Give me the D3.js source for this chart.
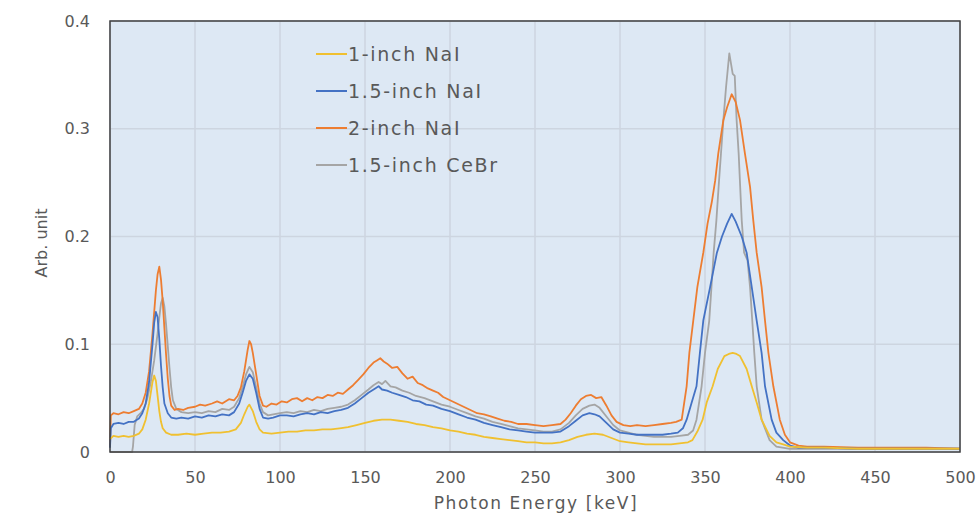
<!DOCTYPE html>
<html>
<head>
<meta charset="utf-8">
<script src="https://cdn.jsdelivr.net/npm/d3@7"></script>
<style>
  body { margin: 0; background: #fff; }
  text { font-family: "DejaVu Sans", sans-serif; fill: #595959; }
</style>
</head>
<body>
<div id="chart"></div>
<script>
// spectra, [energy keV, arb. unit]
const nai1 = [[0,0.012],[2,0.015],[5,0.014],[8,0.015],[11,0.014],[14,0.015],[17,0.017],[19,0.021],[21,0.03],[23,0.045],[25,0.065],[26,0.071],[27,0.066],[28,0.052],[29,0.038],[30,0.028],[31,0.022],[33,0.018],[36,0.016],[40,0.016],[45,0.017],[50,0.016],[55,0.017],[60,0.018],[65,0.018],[70,0.019],[74,0.021],[77,0.027],[79,0.035],[81,0.042],[82,0.044],[84,0.038],[86,0.028],[88,0.021],[90,0.018],[95,0.017],[100,0.018],[105,0.019],[110,0.019],[115,0.02],[120,0.02],[125,0.021],[130,0.021],[135,0.022],[140,0.023],[145,0.025],[150,0.027],[155,0.029],[160,0.03],[165,0.03],[170,0.029],[175,0.028],[180,0.026],[185,0.025],[190,0.023],[195,0.022],[200,0.02],[205,0.019],[210,0.017],[215,0.016],[220,0.014],[225,0.013],[230,0.012],[235,0.011],[240,0.01],[245,0.009],[250,0.009],[255,0.008],[260,0.008],[265,0.009],[270,0.011],[275,0.014],[280,0.016],[285,0.017],[290,0.016],[295,0.013],[300,0.01],[305,0.009],[310,0.008],[315,0.007],[320,0.007],[325,0.007],[330,0.007],[335,0.008],[340,0.009],[342.6,0.011],[345.5,0.019],[348.6,0.03],[351,0.046],[354.5,0.061],[357.5,0.077],[361.4,0.089],[364,0.091],[366.3,0.092],[368.5,0.091],[370.6,0.089],[374.5,0.077],[377.5,0.061],[380.4,0.046],[383.3,0.03],[388,0.015],[392,0.009],[396,0.007],[400,0.005],[410,0.004],[420,0.004],[440,0.003],[460,0.003],[480,0.003],[500,0.003]];

const nai15 = [[0,0.004],[0.5,0.022],[2,0.026],[5,0.027],[8,0.026],[11,0.028],[14,0.028],[17,0.031],[19,0.036],[21,0.045],[23,0.065],[25,0.1],[26,0.12],[27,0.13],[28,0.125],[29,0.105],[30,0.08],[31,0.06],[32,0.045],[34,0.036],[36,0.032],[39,0.031],[42,0.032],[46,0.031],[50,0.033],[54,0.032],[58,0.034],[62,0.033],[66,0.035],[70,0.034],[73,0.037],[76,0.045],[78,0.055],[80,0.066],[82,0.072],[84,0.068],[86,0.055],[88,0.04],[90,0.032],[93,0.031],[96,0.032],[100,0.034],[104,0.034],[108,0.033],[112,0.035],[116,0.036],[120,0.035],[124,0.037],[128,0.036],[132,0.038],[136,0.039],[140,0.041],[144,0.045],[148,0.05],[152,0.055],[156,0.059],[158,0.061],[160,0.058],[163,0.057],[166,0.055],[170,0.053],[174,0.051],[178,0.048],[182,0.047],[186,0.044],[190,0.043],[195,0.04],[200,0.038],[205,0.035],[210,0.032],[215,0.03],[220,0.027],[225,0.025],[230,0.023],[235,0.021],[240,0.02],[245,0.019],[250,0.018],[255,0.018],[260,0.018],[265,0.019],[270,0.024],[274,0.029],[278,0.034],[282,0.036],[285,0.035],[288,0.033],[292,0.027],[296,0.021],[300,0.018],[305,0.017],[310,0.016],[315,0.016],[320,0.016],[325,0.016],[330,0.017],[334,0.018],[337,0.022],[339.2,0.03],[342,0.045],[345,0.061],[347,0.092],[349,0.122],[353,0.153],[357,0.185],[360,0.2],[363,0.212],[365.7,0.221],[368,0.214],[371.6,0.2],[374.5,0.185],[377.5,0.153],[380.4,0.122],[383.3,0.092],[385.3,0.061],[389.2,0.03],[392,0.018],[396,0.011],[400,0.006],[405,0.004],[420,0.004],[440,0.003],[460,0.003],[480,0.003],[500,0.003]];

const nai2 = [[0,0.005],[0.5,0.034],[2,0.036],[5,0.035],[8,0.037],[11,0.036],[14,0.038],[17,0.04],[19,0.045],[21,0.055],[23,0.075],[25,0.11],[27,0.15],[28,0.165],[29,0.172],[30,0.16],[31,0.14],[32,0.115],[33,0.09],[34,0.068],[35,0.052],[36,0.043],[38,0.039],[40,0.04],[43,0.039],[46,0.041],[50,0.042],[53,0.044],[56,0.043],[60,0.045],[63,0.047],[66,0.045],[70,0.049],[73,0.048],[75,0.052],[77,0.06],[79,0.075],[81,0.095],[82,0.103],[83,0.1],[84,0.092],[86,0.072],[88,0.052],[90,0.043],[92,0.042],[95,0.045],[98,0.044],[101,0.047],[104,0.046],[107,0.049],[110,0.05],[113,0.047],[116,0.05],[119,0.048],[122,0.051],[125,0.05],[128,0.053],[131,0.052],[134,0.055],[137,0.054],[140,0.058],[143,0.062],[146,0.067],[149,0.072],[152,0.078],[155,0.083],[157,0.085],[159,0.087],[161,0.084],[163,0.082],[166,0.078],[169,0.079],[172,0.073],[175,0.068],[178,0.07],[181,0.064],[184,0.062],[187,0.059],[190,0.057],[193,0.055],[196,0.051],[200,0.048],[204,0.045],[208,0.042],[212,0.039],[216,0.036],[220,0.035],[224,0.033],[228,0.031],[232,0.029],[236,0.028],[240,0.026],[245,0.026],[250,0.025],[255,0.024],[260,0.025],[265,0.026],[268,0.03],[271,0.036],[274,0.043],[277,0.049],[280,0.052],[283,0.053],[286,0.05],[289,0.051],[292,0.043],[295,0.034],[298,0.028],[302,0.025],[306,0.024],[310,0.025],[315,0.024],[320,0.025],[325,0.026],[330,0.027],[333,0.028],[336.3,0.03],[339.2,0.061],[340.8,0.092],[343.1,0.122],[345.5,0.153],[349,0.185],[351.5,0.212],[354,0.232],[356,0.252],[357.8,0.277],[360.8,0.308],[363,0.32],[365.7,0.332],[368,0.325],[370.6,0.308],[373.5,0.277],[376.5,0.246],[378.4,0.215],[380.4,0.185],[383.3,0.153],[385.3,0.122],[387.3,0.092],[390.2,0.061],[394,0.03],[397,0.016],[400,0.009],[405,0.006],[410,0.005],[420,0.005],[440,0.004],[460,0.004],[480,0.004],[500,0.003]];

const cebr15 = [[0,0],[13,0],[13.5,0.005],[14.5,0.025],[16,0.033],[18,0.036],[20,0.04],[22,0.05],[24,0.065],[26,0.085],[28,0.11],[29,0.125],[30,0.138],[31,0.143],[32,0.135],[33,0.118],[34,0.098],[35,0.078],[36,0.06],[37,0.048],[39,0.04],[42,0.037],[46,0.036],[50,0.037],[54,0.036],[58,0.038],[62,0.037],[66,0.04],[70,0.039],[73,0.042],[76,0.05],[78,0.06],[80,0.072],[82,0.079],[84,0.074],[86,0.06],[88,0.045],[90,0.037],[93,0.034],[96,0.035],[100,0.036],[104,0.037],[108,0.036],[112,0.038],[116,0.037],[120,0.039],[124,0.038],[128,0.04],[132,0.041],[136,0.042],[140,0.044],[144,0.048],[148,0.053],[152,0.058],[155,0.062],[158,0.065],[160,0.063],[162,0.066],[165,0.061],[168,0.06],[172,0.057],[176,0.055],[180,0.052],[185,0.05],[190,0.047],[195,0.044],[200,0.042],[205,0.039],[210,0.036],[215,0.033],[220,0.031],[225,0.028],[230,0.026],[235,0.024],[240,0.022],[245,0.021],[250,0.02],[255,0.019],[260,0.019],[265,0.021],[270,0.027],[274,0.034],[278,0.04],[282,0.043],[285,0.044],[288,0.041],[292,0.033],[296,0.025],[300,0.02],[305,0.018],[310,0.016],[315,0.015],[320,0.014],[325,0.014],[330,0.014],[335,0.015],[340,0.016],[343,0.02],[345,0.03],[348,0.061],[350,0.092],[352.5,0.122],[353.8,0.153],[355.1,0.185],[356.7,0.215],[358,0.246],[359.4,0.277],[360.8,0.308],[362.4,0.339],[364.3,0.370],[366.3,0.351],[367.5,0.349],[368.6,0.308],[369.8,0.277],[370.7,0.246],[371.6,0.215],[373,0.185],[375,0.178],[376.5,0.153],[377.8,0.122],[379,0.092],[380.4,0.061],[383.3,0.03],[388,0.011],[392,0.005],[400,0.003],[420,0.003],[450,0.003],[480,0.003],[500,0.003]];

const seriesNames = ["1-inch NaI", "1.5-inch NaI", "2-inch NaI", "1.5-inch CeBr"];
const seriesData = [nai1, nai15, nai2, cebr15];
const seriesColors = ["#f0c030", "#4472c4", "#ed7d31", "#a5a5a5"];
// drawing order: CeBr under the NaI curves
const drawOrder = [3, 2, 1, 0];

const xTicks = [0, 50, 100, 150, 200, 250, 300, 350, 400, 450, 500];
const yTicks = [0, 0.1, 0.2, 0.3, 0.4];
const yTickLabels = ["0", "0.1", "0.2", "0.3", "0.4"];

let margin = {top: 21, right: 20, bottom: 69, left: 110},
    width = 980 - margin.left - margin.right,
    height = 521 - margin.top - margin.bottom;

const svg = d3.select("#chart")
  .append("svg")
    .attr("width", 980)
    .attr("height", 521);

const g = svg.append("g")
    .attr("transform", "translate(" + margin.left + "," + margin.top + ")");

let x = d3.scaleLinear()
    .domain([0, 500])
    .range([0, width]);

let y = d3.scaleLinear()
    .domain([0, 0.4])
    .range([height, 0]);

// plot area background
g.append("rect")
    .attr("width", width)
    .attr("height", height)
    .attr("fill", "#dde8f4");

// gridlines
g.append("g")
    .selectAll("line.vg")
    .data(xTicks)
    .join("line")
      .attr("x1", d => x(d)).attr("x2", d => x(d))
      .attr("y1", 0).attr("y2", height)
      .attr("stroke", "#cdd5e0")
      .attr("stroke-width", 1.5);

g.append("g")
    .selectAll("line.hg")
    .data(yTicks)
    .join("line")
      .attr("x1", 0).attr("x2", width)
      .attr("y1", d => y(d)).attr("y2", d => y(d))
      .attr("stroke", "#cdd5e0")
      .attr("stroke-width", 1.5);

let line = d3.line()
    .x(d => x(d[0]))
    .y(d => y(d[1]));

g.append("g")
    .selectAll("path")
    .data(drawOrder)
    .join("path")
      .attr("d", i => line(seriesData[i]))
      .attr("fill", "none")
      .attr("stroke", i => seriesColors[i])
      .attr("stroke-width", 1.8)
      .attr("stroke-linejoin", "round");

// frame
g.append("rect")
    .attr("width", width)
    .attr("height", height)
    .attr("fill", "none")
    .attr("stroke", "#404040")
    .attr("stroke-width", 1.5);

// axes
let xAxis = g.append("g")
    .attr("transform", `translate(0,${height})`)
    .call(d3.axisBottom(x).tickValues(xTicks).tickSize(0).tickPadding(20))
    .call(g => g.select(".domain").remove());
xAxis.selectAll("text")
    .attr("font-size", 16)
    .attr("font-family", "DejaVu Sans")
    .attr("fill", "#595959");

let yAxis = g.append("g")
    .call(d3.axisLeft(y).tickValues(yTicks).tickFormat((d, i) => yTickLabels[i]).tickSize(0).tickPadding(20))
    .call(g => g.select(".domain").remove());
yAxis.selectAll("text")
    .attr("font-size", 16)
    .attr("font-family", "DejaVu Sans")
    .attr("fill", "#595959");

// axis titles
svg.append("text")
    .attr("x", 536)
    .attr("y", 509)
    .attr("text-anchor", "middle")
    .attr("font-size", 17)
    .attr("letter-spacing", 1.6)
    .text("Photon Energy [keV]");

svg.append("text")
    .attr("transform", "translate(47,243) rotate(-90)")
    .attr("text-anchor", "middle")
    .attr("font-size", 16)
    .text("Arb. unit");

// legend
const legend = svg.append("g")
    .selectAll("g")
    .data(seriesNames)
    .join("g")
      .attr("transform", (d, i) => `translate(316,${54 + i * 37})`);

legend.append("line")
    .attr("x1", 0).attr("x2", 31)
    .attr("stroke", (d, i) => seriesColors[i])
    .attr("stroke-width", 2);

legend.append("text")
    .attr("x", 32)
    .attr("dy", "0.35em")
    .attr("font-size", 19)
    .attr("letter-spacing", 1.7)
    .text(d => d);
</script>
</body>
</html>
